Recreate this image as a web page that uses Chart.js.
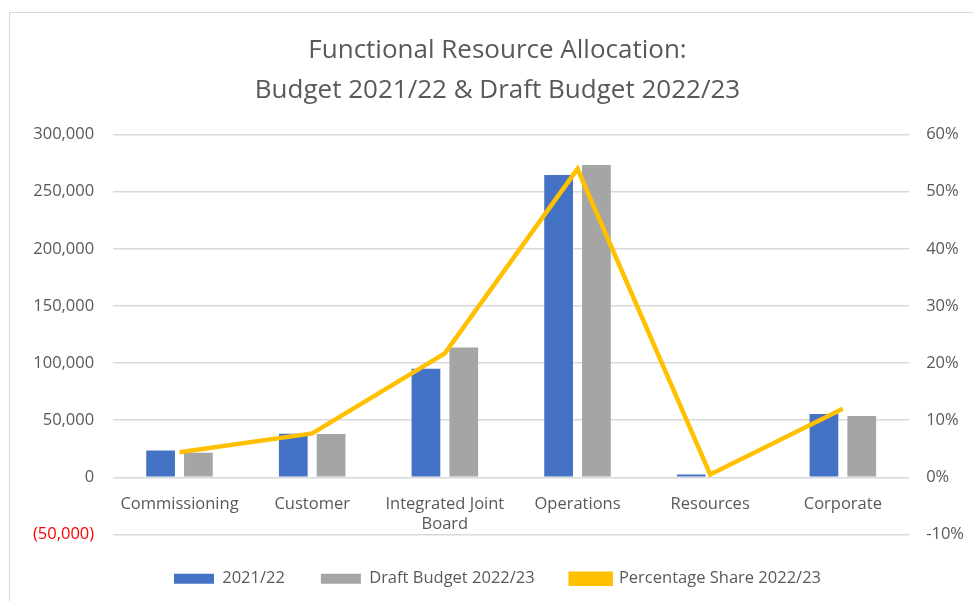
<!DOCTYPE html>
<html>
<head>
<meta charset="utf-8">
<script src="https://cdn.jsdelivr.net/npm/chart.js@4/dist/chart.umd.min.js"></script>
<style>
  body { margin: 0; background: #fff; overflow: hidden; }
  #box { position: absolute; left: 9px; top: 12px; width: 980px; height: 600px; border: 1px solid #d9d9d9; }
  #wrap { position: absolute; left: 0; top: 0; width: 973px; height: 601px; }
</style>
</head>
<body>
<div id="box"></div>
<div id="wrap"><canvas id="MyChart"></canvas></div>
<script>
/* categories + series */
const labels = ['Commissioning', 'Customer', ['Integrated Joint', 'Board'], 'Operations', 'Resources', 'Corporate'];
const budget2122 = [23600, 38200, 95000, 264700, 2500, 55400];//2021/22
const draft2223 = [21600, 37900, 113700, 273500, 0, 53700];//Draft Budget 2022/23
const share2223 = [4.4, 7.7, 21.7, 54.0, 0.5, 12.0];//Percentage Share 2022/23 (%)

const textColor = '#595959';
const fontName = "'Open Sans', 'Noto Sans', sans-serif";

//number format like Excel accounting: (50,000) for negatives
function fmtMoney(v) {
    let s = Math.abs(v).toLocaleString('en-US');
    return v < 0 ? '(' + s + ')' : s;
}

const ctx = document.getElementById('MyChart');

let NewChart = new Chart(ctx, {
    data: {
        labels: labels,
        datasets: [{
            type: 'line',
            label: 'Percentage Share 2022/23',
            data: share2223,
            yAxisID: 'y2',
            borderColor: '#FFC000',
            backgroundColor: '#FFC000',
            borderWidth: 4.5,
            pointRadius: 0,
            tension: 0,
            order: 0
        }, {
            type: 'bar',
            label: '2021/22',
            data: budget2122,
            yAxisID: 'y',
            backgroundColor: '#4472C4',
            barPercentage: 0.76,
            categoryPercentage: 0.57,
            order: 1
        }, {
            type: 'bar',
            label: 'Draft Budget 2022/23',
            data: draft2223,
            yAxisID: 'y',
            backgroundColor: '#A5A5A5',
            barPercentage: 0.76,
            categoryPercentage: 0.57,
            order: 1
        }]
    },
    options: {
        responsive: true,
        maintainAspectRatio: false,
        animation: false,
        layout: { padding: { left: 14, right: -8, top: 20, bottom: 4 } },
        font: { family: fontName },
        scales: {
            x: {
                position: { y: 0 },
                grid: { display: false },
                border: { display: false },
                ticks: { color: textColor, font: { family: fontName, size: 16.5 }, maxRotation: 0, autoSkip: false, padding: 9 }
            },
            y: {
                position: 'left',
                min: -50000,
                max: 300000,
                grid: { color: '#d9d9d9', lineWidth: 1.5, drawTicks: false },
                border: { display: false },
                ticks: {
                    stepSize: 50000,
                    padding: 19,
                    font: { family: fontName, size: 16.5 },
                    color: (c) => c.tick && c.tick.value < 0 ? '#FF0000' : textColor,
                    callback: (v) => fmtMoney(v)
                }
            },
            y2: {
                position: 'right',
                min: -10,
                max: 60,
                grid: { display: false, drawTicks: false },
                border: { display: false },
                ticks: {
                    stepSize: 10,
                    padding: 17,
                    font: { family: fontName, size: 16.5 },
                    color: textColor,
                    callback: (v) => v + '%'
                }
            }
        },
        plugins: {
            title: {
                display: true,
                text: ['Functional Resource Allocation:', 'Budget 2021/22 & Draft Budget 2022/23'],
                color: textColor,
                font: { family: fontName, size: 26, weight: 'normal', lineHeight: 1.55 },
                padding: { top: 10, bottom: 24 }
            },
            legend: {
                position: 'bottom',
                labels: {
                    color: textColor,
                    font: { family: fontName, size: 16.5 },
                    boxWidth: 40,
                    boxHeight: 10,
                    padding: 36,
                    //keep legend order like the picture: bars first, then the line
                    sort: (a, b) => (a.datasetIndex === 0 ? 3 : a.datasetIndex) - (b.datasetIndex === 0 ? 3 : b.datasetIndex)
                }
            },
            tooltip: { enabled: false }
        }
    }
});
</script>
</body>
</html>
